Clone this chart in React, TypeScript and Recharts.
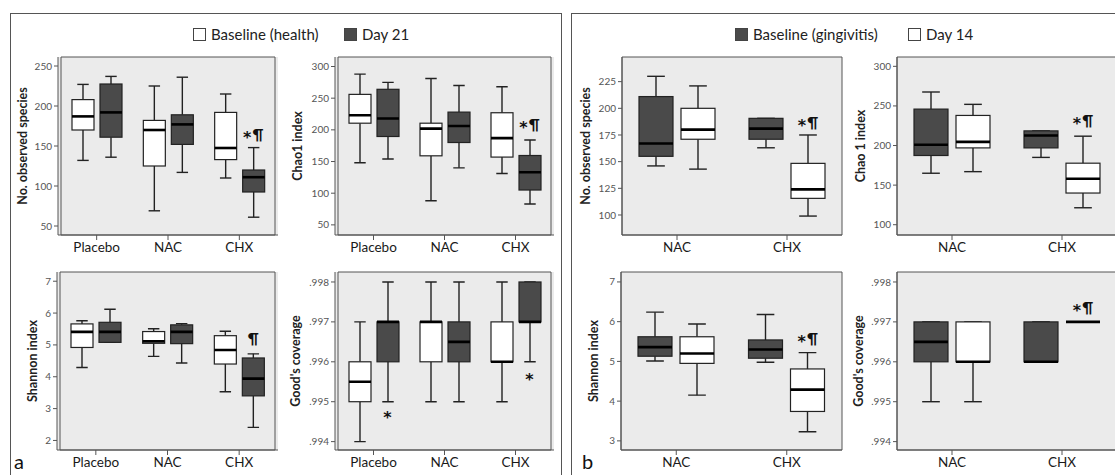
import React from 'react';
import { ComposedChart, Bar, Scatter, XAxis, YAxis, CartesianGrid, ReferenceArea } from 'recharts';

// each box: [min, q1, median, q3, max]
type Box = [number, number, number, number, number];
type Mark = [string, number] | null;

const groupsA = ['Placebo', 'NAC', 'CHX'];
const groupsB = ['NAC', 'CHX'];

// panel a: Baseline (health) / Day 21
const speciesHealth: Box[] = [[132, 170, 187, 208, 227], [69, 125, 170, 182, 225], [110, 133, 147.5, 192, 215]];
const speciesDay21: Box[] = [[136, 161, 192, 227.5, 237], [117, 152, 177, 189, 236], [61, 92.5, 111, 120, 148]];
const speciesDay21Marks: Mark[] = [null, null, ['*¶', 164]];

const chaoHealth: Box[] = [[148, 210.5, 223, 256, 288], [88, 159, 202, 210.5, 281], [131, 157, 187, 227, 268]];
const chaoDay21: Box[] = [[154, 189.5, 218, 264, 275], [140, 180, 206, 228, 270], [83, 105, 133, 159.5, 184]];
const chaoDay21Marks: Mark[] = [null, null, ['*¶', 208]];

const shannonHealth: Box[] = [[4.29, 4.92, 5.41, 5.66, 5.76], [4.64, 5.05, 5.11, 5.42, 5.51], [3.53, 4.4, 4.84, 5.29, 5.43]];
const shannonDay21: Box[] = [[5.08, 5.08, 5.41, 5.71, 6.12], [4.43, 5.04, 5.41, 5.63, 5.67], [2.41, 3.4, 3.94, 4.59, 4.72]];
const shannonDay21Marks: Mark[] = [null, null, ['¶', 5.2]];

const goodHealth: Box[] = [[0.994, 0.995, 0.9955, 0.996, 0.997], [0.995, 0.996, 0.997, 0.997, 0.998], [0.995, 0.996, 0.996, 0.997, 0.998]];
const goodDay21: Box[] = [[0.995, 0.996, 0.997, 0.997, 0.998], [0.995, 0.996, 0.9965, 0.997, 0.998], [0.996, 0.997, 0.997, 0.998, 0.998]];
const goodDay21Marks: Mark[] = [['*', 0.99467], null, ['*', 0.99562]];

// panel b: Baseline (gingivitis) / Day 14
const speciesGingivitis: Box[] = [[146, 155, 167, 211, 230], [163, 171, 181, 190.6, 190.6]];
const speciesDay14: Box[] = [[143, 171, 180, 200, 221], [99, 115.6, 124, 148.4, 175]];
const speciesDay14Marks: Mark[] = [null, ['*¶', 187]];

const chaoGingivitis: Box[] = [[165, 187.4, 201, 246, 267.6], [185, 197, 212.6, 218.5, 218.5]];
const chaoDay14: Box[] = [[167, 197, 204.6, 238, 252], [121.4, 140, 158, 177.7, 211.8]];
const chaoDay14Marks: Mark[] = [null, ['*¶', 232]];

const shannonGingivitis: Box[] = [[5.01, 5.13, 5.36, 5.62, 6.24], [4.98, 5.08, 5.3, 5.54, 6.18]];
const shannonDay14: Box[] = [[4.15, 4.95, 5.2, 5.62, 5.94], [3.23, 3.74, 4.29, 4.81, 5.22]];
const shannonDay14Marks: Mark[] = [null, ['*¶', 5.58]];

const goodGingivitis: Box[] = [[0.995, 0.996, 0.9965, 0.997, 0.997], [0.996, 0.996, 0.996, 0.997, 0.997]];
const goodDay14: Box[] = [[0.995, 0.996, 0.996, 0.997, 0.997], [0.997, 0.997, 0.997, 0.997, 0.997]];
const goodDay14Marks: Mark[] = [null, ['*¶', 0.99735]];

const speciesTicksA = [50, 100, 150, 200, 250];
const chaoTicksA = [50, 100, 150, 200, 250, 300];
const shannonTicksA = [2, 3, 4, 5, 6, 7];
const goodTicks = [0.994, 0.995, 0.996, 0.997, 0.998];
const speciesTicksB = [100, 125, 150, 175, 200, 225];
const chaoTicksB = [100, 150, 200, 250, 300];
const shannonTicksB = [3, 4, 5, 6, 7];

const DARK = '#4a4a4a';
const WHITE = '#ffffff';
const AXIS = '#555';
const FONT = 'Lato, "Open Sans", sans-serif';
const STAR_FONT = '"DejaVu Sans", sans-serif';

function boxShape(key: 's1' | 's2') {
  return (props: any) => {
    const { x, y, width, height, payload, fill } = props;
    const b: Box = payload[key];
    const top = Math.min(y, y + height);
    const bottom = Math.max(y, y + height);
    const lo = b[0];
    const hi = b[4];
    const py = (v: number) => (hi === lo ? top : bottom - ((v - lo) / (hi - lo)) * (bottom - top));
    const cx = x + width / 2;
    const cap = width * 0.26;
    return (
      <g>
        <line x1={cx} x2={cx} y1={py(b[4])} y2={py(b[3])} stroke="#222" strokeWidth={1.4} />
        <line x1={cx} x2={cx} y1={py(b[1])} y2={py(b[0])} stroke="#222" strokeWidth={1.4} />
        <line x1={cx - cap} x2={cx + cap} y1={py(b[4])} y2={py(b[4])} stroke="#222" strokeWidth={1.4} />
        <line x1={cx - cap} x2={cx + cap} y1={py(b[0])} y2={py(b[0])} stroke="#222" strokeWidth={1.4} />
        <rect x={x} y={py(b[3])} width={width} height={py(b[1]) - py(b[3])} fill={fill} stroke="#222" strokeWidth={1.2} />
        <line x1={x} x2={x + width} y1={py(b[2])} y2={py(b[2])} stroke="#000" strokeWidth={2.6} />
      </g>
    );
  };
}

function markShape(offset: number) {
  return (props: any) => {
    const { cx, cy, payload } = props;
    if (!payload || !payload.mark || cy == null || isNaN(cy)) return <g />;
    const mark: string = payload.mark;
    if (mark === '*') {
      return (
        <text x={cx + offset} y={cy + 8.5} textAnchor="middle" fontSize={16} fontWeight={700} fill="#111" fontFamily={STAR_FONT}>
          *
        </text>
      );
    }
    return (
      <text x={cx + offset} y={cy + 5.5} textAnchor="middle" fontSize={15} fontWeight={700} fill="#111" fontFamily={FONT}>
        {mark.split('').map((ch, i) =>
          ch === '*' ? (
            <tspan key={i} dy={3} fontFamily={STAR_FONT} fontSize={16}>*</tspan>
          ) : (
            <tspan key={i} dy={i > 0 && mark[i - 1] === '*' ? -3 : 0} dx={i > 0 ? 1 : 0}>{ch}</tspan>
          ),
        )}
      </text>
    );
  };
}

const YLabel = (props: any) => {
  const { viewBox, text, gap } = props;
  const lx = viewBox.x + viewBox.width - gap;
  const ly = viewBox.y + viewBox.height / 2;
  return (
    <text x={lx} y={ly} transform={`rotate(-90, ${lx}, ${ly})`} textAnchor="middle" dominantBaseline="central"
      fontSize={12.5} fontWeight={700} fill="#222" fontFamily={FONT}>
      {text}
    </text>
  );
};

interface PanelProps {
  title: string;
  groups: string[];
  first: Box[];
  second: Box[];
  firstFill: string;
  secondFill: string;
  marks: Mark[];
  domain: [number, number];
  ticks: number[];
  px: number;
  py: number;
  pw: number;
  ph: number;
  gap: number;
  barSize: number;
  barGap: number;
  pad: number;
  fmt?: (v: number) => string;
}

const Panel: React.FC<PanelProps> = (p) => {
  const data = p.groups.map((g, i) => ({
    cat: g,
    s1: p.first[i],
    s2: p.second[i],
    mark: p.marks[i] ? p.marks[i]![0] : null,
    markY: p.marks[i] ? p.marks[i]![1] : null,
  }));
  const left = 60;
  const top = 8;
  const right = 10;
  const xh = 34;
  return (
    <div style={{ position: 'absolute', left: p.px - left, top: p.py - top }}>
      <ComposedChart width={p.pw + left + right} height={p.ph + top + xh} data={data}
        margin={{ top, right, left: 0, bottom: 0 }} barSize={p.barSize} barGap={p.barGap}>
        <CartesianGrid fill="#ebebeb" horizontal={false} vertical={false} />
        <XAxis dataKey="cat" height={xh} padding={{ left: p.pad, right: p.pad }} tickSize={5} tickMargin={2}
          axisLine={{ stroke: AXIS }} tickLine={{ stroke: AXIS }}
          tick={{ fontSize: 13.5, fill: '#1a1a1a', fontFamily: FONT }} interval={0} />
        <YAxis type="number" width={left} domain={p.domain} ticks={p.ticks} interval={0} tickSize={4} tickMargin={2}
          allowDataOverflow axisLine={{ stroke: AXIS }} tickLine={{ stroke: AXIS }}
          tick={{ fontSize: 10, fill: '#555', fontFamily: FONT }}
          tickFormatter={p.fmt || ((v: number) => String(v))}
          label={<YLabel text={p.title} gap={p.gap} />} />
        <ReferenceArea y1={p.domain[0]} y2={p.domain[1]} fill="none" stroke={AXIS} strokeWidth={1} ifOverflow="visible" />
        <Bar dataKey={(d: any) => [d.s1[0], d.s1[4]]} fill={p.firstFill} shape={boxShape('s1')} isAnimationActive={false} />
        <Bar dataKey={(d: any) => [d.s2[0], d.s2[4]]} fill={p.secondFill} shape={boxShape('s2')} isAnimationActive={false} />
        <Scatter dataKey="markY" shape={markShape((p.barSize + p.barGap) / 2)} isAnimationActive={false} />
      </ComposedChart>
    </div>
  );
};

const goodFmt = (v: number) => v.toFixed(3).slice(1);

const LegendItem = ({ x, fill, text }: { x: number; fill: string; text: string }) => (
  <div style={{ position: 'absolute', left: x, top: 25, display: 'flex', alignItems: 'center', fontSize: 15, color: '#222', fontFamily: FONT }}>
    <span style={{ width: 11, height: 11, background: fill, border: '1px solid #444', marginRight: 5, display: 'inline-block' }} />
    <span>{text}</span>
  </div>
);

export default function App() {
  const a = { firstFill: WHITE, secondFill: DARK, barSize: 22, barGap: 6, pad: 3, groups: groupsA };
  const b = { firstFill: DARK, secondFill: WHITE, barSize: 34, barGap: 8, pad: 0, groups: groupsB };
  return (
    <div style={{ position: 'absolute', left: 0, top: 0, width: 1115, height: 475, overflow: 'hidden', background: '#fff', fontFamily: FONT }}>
      <div style={{ position: 'absolute', left: 10, top: 13, width: 550, height: 480, border: `1px solid ${AXIS}` }} />
      <div style={{ position: 'absolute', left: 571, top: 13, width: 560, height: 480, border: `1px solid ${AXIS}` }} />

      <LegendItem x={193} fill={WHITE} text="Baseline (health)" />
      <LegendItem x={344} fill={DARK} text="Day 21" />
      <LegendItem x={735} fill={DARK} text="Baseline (gingivitis)" />
      <LegendItem x={908} fill={WHITE} text="Day 14" />

      <Panel {...a} title="No. observed species" first={speciesHealth} second={speciesDay21} marks={speciesDay21Marks}
        domain={[38.75, 261.25]} ticks={speciesTicksA} px={58} py={57} pw={220} ph={178} gap={36} />
      <Panel {...a} title="Chao1 index" first={chaoHealth} second={chaoDay21} marks={chaoDay21Marks}
        domain={[34, 315]} ticks={chaoTicksA} px={335} py={57} pw={219} ph={178} gap={38} />
      <Panel {...a} title="Shannon index" first={shannonHealth} second={shannonDay21} marks={shannonDay21Marks}
        domain={[1.7, 7.29]} ticks={shannonTicksA} px={57} py={272} pw={221} ph={178} gap={25} />
      <Panel {...a} title="Good's coverage" first={goodHealth} second={goodDay21} marks={goodDay21Marks}
        domain={[0.99379, 0.99825]} ticks={goodTicks} px={335} py={272} pw={219} ph={178} gap={40} fmt={goodFmt} />

      <Panel {...b} title="No. observed species" first={speciesGingivitis} second={speciesDay14} marks={speciesDay14Marks}
        domain={[81.25, 248.1]} ticks={speciesTicksB} px={622} py={57} pw={220} ph={178} gap={37} />
      <Panel {...b} title="Chao 1 index" first={chaoGingivitis} second={chaoDay14} marks={chaoDay14Marks}
        domain={[87, 311.8]} ticks={chaoTicksB} px={897} py={57} pw={220} ph={178} gap={37} />
      <Panel {...b} title="Shannon index" first={shannonGingivitis} second={shannonDay14} marks={shannonDay14Marks}
        domain={[2.77, 7.25]} ticks={shannonTicksB} px={621} py={272} pw={221} ph={178} gap={28} />
      <Panel {...b} title="Good's coverage" first={goodGingivitis} second={goodDay14} marks={goodDay14Marks}
        domain={[0.99379, 0.99825]} ticks={goodTicks} px={897} py={272} pw={220} ph={178} gap={39} fmt={goodFmt} />

      <div style={{ position: 'absolute', left: 14, top: 451, fontSize: 20, lineHeight: '20px', color: '#111' }}>a</div>
      <div style={{ position: 'absolute', left: 582, top: 451, fontSize: 20, lineHeight: '20px', color: '#111' }}>b</div>
    </div>
  );
}
